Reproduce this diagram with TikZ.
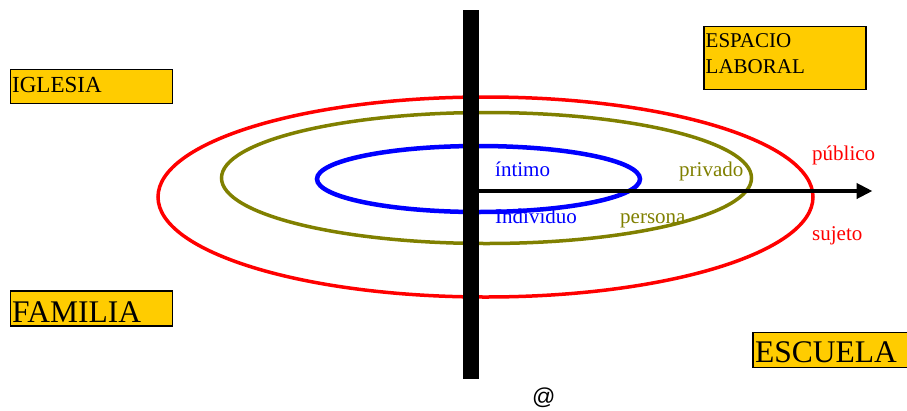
\documentclass[tikz,border=0pt]{standalone}
\usepackage{fontspec}
\setmainfont{Liberation Serif}
\newfontfamily\atfont{Liberation Sans}
\usetikzlibrary{arrows.meta,shapes.geometric}
\definecolor{gold}{HTML}{FFCC00}
\definecolor{olivec}{HTML}{808000}
\begin{document}
\begin{tikzpicture}[x=1pt,y=-1pt,
  ring/.style={draw,ellipse,inner sep=0pt},
  label21/.style={inner sep=0pt,anchor=base west,font=\fontsize{21}{25}\selectfont},
  labelbig/.style={inner sep=0pt,anchor=base west,font=\fontsize{31.5}{36}\selectfont},
  goldbox/.style={draw=black,line width=1.5pt,fill=gold,inner sep=0pt,anchor=north west}]
\useasboundingbox (0,0) rectangle (907,410);
% boxes
\node[goldbox,minimum width=162pt,minimum height=34pt] (bIgl) at (9.5,68.5) {};
\node[goldbox,minimum width=162pt,minimum height=63pt] (bEsp) at (703,25.5) {};
\node[goldbox,minimum width=162pt,minimum height=35pt] (bFam) at (9.5,290) {};
\node[goldbox,minimum width=170pt,minimum height=35pt] (bEsc) at (752,331.5) {};
\node[label21,font=\fontsize{23}{27}\selectfont] (tIgl) at (12,92.7) {IGLESIA};
\node[label21] (tEsp) at (705.5,47) {ESPACIO};
\node[label21] (tLab) at (705.5,73) {LABORAL};
\node[labelbig] (tFam) at (12,322.7) {FAMILIA};
\node[labelbig] (tEsc) at (755,362.7) {ESCUELA};
% rings
\node[ring,draw=red,line width=3.5pt,minimum width=655pt,minimum height=200pt] (rRed) at (485.5,197) {};
\node[ring,draw=olivec,line width=3.5pt,minimum width=530pt,minimum height=131pt] (rOl) at (486.5,178) {};
\node[ring,draw=blue,line width=4.5pt,minimum width=323pt,minimum height=66pt] (rBl) at (478.5,179) {};
% bar and arrow
\node[fill=black,inner sep=0pt,minimum width=16.5pt,minimum height=369.5pt] (bar) at (471,194.5) {};
\coordinate (tip) at (872.5,191);
\draw[line width=4pt,-{Triangle[length=16pt,width=15pt]}] (bar.east |- tip) -- (tip);
% labels
\node[label21,text=blue] (lInt) at (495,176) {íntimo};
\node[label21,text=blue] (lInd) at (495,223) {Individuo};
\node[label21,text=olivec] (lPri) at (679,176) {privado};
\node[label21,text=olivec] (lPer) at (620,223) {persona};
\node[label21,text=red] (lPub) at (812,160) {público};
\node[label21,text=red] (lSuj) at (812,240) {sujeto};
\node[inner sep=0pt,anchor=base west,font=\atfont\fontsize{23}{27}\selectfont] (at) at (532,404) {@};
\end{tikzpicture}
\end{document}
